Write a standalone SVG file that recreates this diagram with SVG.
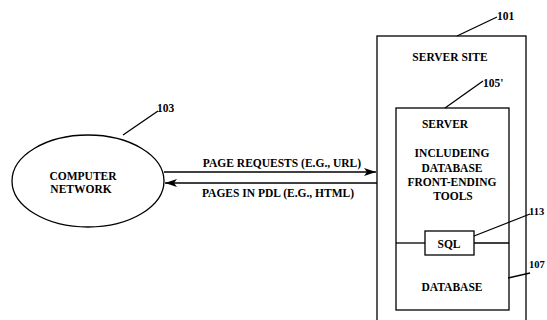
<svg xmlns="http://www.w3.org/2000/svg" width="547" height="320" viewBox="0 0 547 320">
<defs>
<style>
text{font-family:"Liberation Serif","Times New Roman",serif;font-weight:bold;font-size:11.5px;fill:#000}
.c{text-anchor:middle}
.r{font-size:10.5px}
.s{fill:none;stroke:#000;stroke-width:1.3}
</style>
<marker id="ah" markerWidth="12" markerHeight="8" refX="12" refY="4" orient="auto" markerUnits="userSpaceOnUse">
<path d="M0,0 L12,4 L0,8 L3,4 Z" fill="#000"/>
</marker>
</defs>
<rect width="547" height="320" fill="#fff"/>
<g id="network">
<ellipse class="s" cx="88" cy="181" rx="76" ry="46"/>
<text class="c" x="83" y="180">COMPUTER</text>
<text class="c" x="81" y="193">NETWORK</text>
<text x="157" y="112">103</text>
</g>
<g id="server-site">
<rect class="s" x="377" y="36" width="149" height="300"/>
<text class="c" x="450" y="61">SERVER SITE</text>
<text x="497" y="20">101</text>
</g>
<g id="server">
<rect class="s" x="396" y="108" width="113" height="202"/>
<text class="c" x="445" y="128">SERVER</text>
<text class="c" x="452" y="157">INCLUDEING</text>
<text class="c" x="452" y="172">DATABASE</text>
<text class="c" x="452" y="186">FRONT-ENDING</text>
<text class="c" x="453" y="200">TOOLS</text>
<text x="483" y="87">105'</text>
</g>
<g id="database">
<line class="s" x1="396" y1="243" x2="425" y2="243"/>
<line class="s" x1="474" y1="243" x2="509" y2="243"/>
<text class="c" x="452" y="291">DATABASE</text>
<text class="r" x="529" y="268">107</text>
</g>
<g id="sql">
<rect class="s" x="425" y="231" width="49" height="24"/>
<text class="c" x="449" y="248">SQL</text>
<text class="r" x="529" y="215">113</text>
</g>
<g id="connectors">
<line class="s" x1="164" y1="172" x2="376" y2="172" marker-end="url(#ah)"/>
<line class="s" x1="377" y1="183" x2="165" y2="183" marker-end="url(#ah)"/>
<text class="c" x="282" y="167">PAGE REQUESTS (E.G., URL)</text>
<text class="c" x="278" y="197">PAGES IN PDL (E.G., HTML)</text>
<line class="s" x1="123" y1="135" x2="158" y2="111"/>
<line class="s" x1="457" y1="36" x2="497" y2="17"/>
<line class="s" x1="445" y1="108" x2="483" y2="81"/>
<line class="s" x1="474" y1="236" x2="530" y2="214"/>
<line class="s" x1="508" y1="278" x2="530" y2="273"/>
</g>
</svg>
